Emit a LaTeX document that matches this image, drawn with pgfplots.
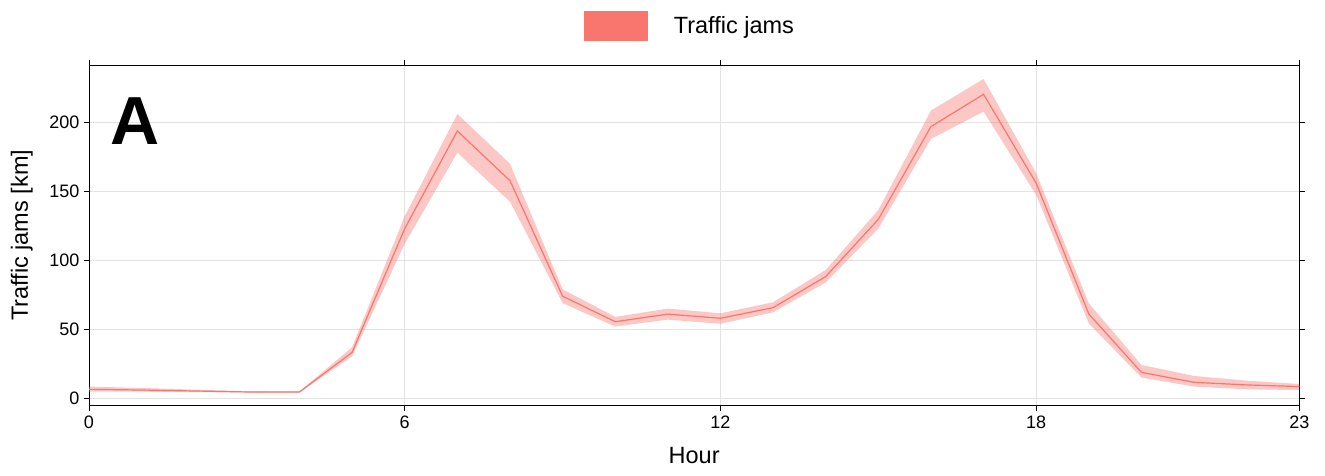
\documentclass[border=0pt]{standalone}
\usepackage{pgfplots}
\pgfplotsset{compat=1.18}
\usepgfplotslibrary{fillbetween}
\usepackage{fontspec}
\setmainfont{Liberation Sans}
\definecolor{tj}{HTML}{F8766D}
\definecolor{gridc}{HTML}{E3E3E3}
\begin{document}
\begin{tikzpicture}[x=1pt,y=1pt]
\begin{axis}[
  at={(89pt,69.7pt)}, anchor=south west,
  scale only axis, width=1210.3pt, height=340pt,
  xmin=0, xmax=23, ymin=-5.07, ymax=241.3,
  xtick={0,6,12,18,23}, ytick={0,50,100,150,200},
  tick align=outside, major tick length=5.5pt,
  xtick pos=both, ytick pos=both,
  xticklabel pos=bottom, yticklabel pos=left,
  tick style={black, line width=0.8pt},
  grid=major, major grid style={gridc, line width=0.8pt},
  axis line style={black, line width=0.9pt},
  /pgf/number format/assume math mode=true,
  ticklabel style={font=\fontsize{18}{21}\selectfont},
  yticklabel style={inner sep=0pt, xshift=-4pt},
  xticklabel style={inner sep=0pt, yshift=-4.5pt},
  xlabel={Hour}, ylabel={Traffic jams [km]},
  every axis x label/.style={at={(axis description cs:0.5,0)}, anchor=north, inner sep=0pt, yshift=-41.4pt, font=\fontsize{23.5}{26}\selectfont},
  every axis y label/.style={at={(axis description cs:0,0.5)}, anchor=south, rotate=90, inner sep=0pt, yshift=56pt, font=\fontsize{23.5}{26}\selectfont},
  legend style={at={(axis description cs:0.5,1)}, anchor=south, yshift=25pt, xshift=-4pt, draw=none, fill=none, inner sep=0pt,
    font=\fontsize{23.5}{26}\selectfont},
  legend cell align=left,
]
\addplot[name path=up, draw=none, forget plot] coordinates {
(0,8.5)(1,7.5)(2,6.3)(3,5.2)(4,5.0)(5,37)(6,132)(7,206)(8,170)(9,79)(10,59)(11,65)
(12,61.6)(13,69.6)(14,93)(15,136.5)(16,208.5)(17,231.4)(18,163)(19,68.8)(20,24.2)(21,16.2)(22,12.8)(23,10.4)};
\addplot[name path=lo, draw=none, forget plot] coordinates {
(0,4.8)(1,4.8)(2,4.5)(3,4.2)(4,4.2)(5,30.5)(6,112)(7,178)(8,142.5)(9,69)(10,52)(11,57)
(12,54)(13,62.3)(14,84)(15,123)(16,188)(17,207.7)(18,147.3)(19,54.3)(20,15)(21,8.5)(22,6.5)(23,6)};
\addplot[tj, opacity=0.4, draw=none, forget plot] fill between[of=up and lo];
\addplot[tj, line width=1.2pt, forget plot] coordinates {
(0,6.5)(1,6.0)(2,5.3)(3,4.6)(4,4.6)(5,33.3)(6,123)(7,193.7)(8,157.7)(9,74)(10,55.5)(11,61)
(12,58)(13,65.7)(14,88.2)(15,129.7)(16,196.9)(17,220.3)(18,155.8)(19,61.1)(20,18.8)(21,11.6)(22,9.7)(23,8.5)};
\addlegendimage{area legend, legend image code/.code={\fill[tj] (0pt,-14.5pt) rectangle (63pt,14.5pt); \path (87pt,0pt);}}
\addlegendentry{Traffic jams}
\node[anchor=north west, inner sep=0pt, font=\fontsize{68}{70}\selectfont\bfseries] at (axis cs:0.41,218.3) {A};
\end{axis}
\pgfresetboundingbox
\path[use as bounding box] (0,0) rectangle (1325,475);
\end{tikzpicture}
\end{document}
